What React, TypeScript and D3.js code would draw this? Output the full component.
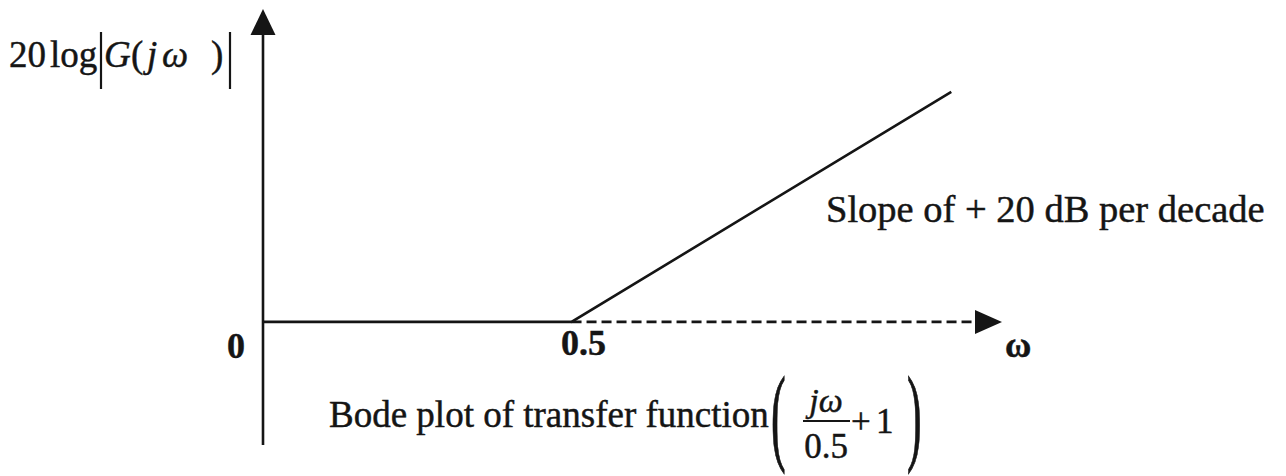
import React from "react";
import * as d3 from "d3";

// Asymptotic Bode magnitude of (jω/0.5 + 1): flat at 0 dB, then +20 dB/decade past the corner
const omegaBreaks = [0.077, 0.5, 5];
const magnitudeDb = [0, 0, 20];
const cornerOmega = 0.5;
const omegaExtent = [0.077, 6.8];
const dbExtent = [-10.7, 27.2];

const originLabel = "0";
const cornerLabel = "0.5";
const omegaLabel = "ω";
const slopeLabel = "Slope of + 20 dB per decade";
const captionLabel = "Bode plot of transfer function";

const W = 1286;
const H = 476;
const INK = "#151515";
const SERIF = "'Liberation Serif', 'Times New Roman', serif";

export default function App() {
  const x = d3.scaleLog().domain(omegaExtent).range([263, 1002]);
  const y = d3.scaleLinear().domain(dbExtent).range([445, 9]);

  const pts: [number, number][] = omegaBreaks.map((w, i) => [x(w), y(magnitudeDb[i])]);
  const asymptote = d3.line()(pts) as string;

  const x0 = x(omegaExtent[0]);
  const xc = x(cornerOmega);
  const xEnd = x(omegaExtent[1]);
  const y0 = y(0);
  const yTop = y(dbExtent[1]);
  const yBot = y(dbExtent[0]);

  // slightly heavier glyphs, like a printed textbook figure
  const textInk = { fill: INK, stroke: INK, strokeWidth: 0.45 };

  return (
    <svg
      width={W}
      height={H}
      viewBox={`0 0 ${W} ${H}`}
      style={{ position: "absolute", left: 0, top: 0, background: "#fff" }}
      fontFamily={SERIF}
      fill={INK}
    >
      {/* vertical axis with arrowhead */}
      <line x1={x0} x2={x0} y1={yBot} y2={yTop + 24} stroke={INK} strokeWidth={2.6} />
      <path d={`M${x0},${yTop} L${x0 - 12.5},${yTop + 26} L${x0 + 12.5},${yTop + 26} Z`} fill={INK} />

      {/* dashed continuation of the 0 dB line to the ω arrow */}
      <line x1={xc} x2={xEnd - 27} y1={y0} y2={y0} stroke={INK} strokeWidth={2.6} strokeDasharray="10 5" />
      <path d={`M${xEnd},${y0} L${xEnd - 27},${y0 - 12} L${xEnd - 27},${y0 + 12} Z`} fill={INK} />

      {/* asymptote */}
      <path d={asymptote} fill="none" stroke={INK} strokeWidth={2.6} />

      <g {...textInk}>
        {/* y-axis label: 20 log|G(jω )| */}
        <text y={67} fontSize={37}>
          <tspan x={9}>20</tspan>
          <tspan x={50}>log</tspan>
        </text>
        <text y={67} fontSize={37} fontStyle="italic">
          <tspan x={104}>G</tspan>
          <tspan x={131} fontStyle="normal">(</tspan>
          <tspan x={147}>j</tspan>
          <tspan x={162}>ω</tspan>
          <tspan x={211} fontStyle="normal">)</tspan>
        </text>

        {/* tick labels */}
        <text x={x0 - 27} y={358} fontSize={36} fontWeight="bold" textAnchor="middle">
          {originLabel}
        </text>
        <text x={xc + 12} y={355} fontSize={36} fontWeight="bold" textAnchor="middle">
          {cornerLabel}
        </text>
        <text x={xEnd + 3} y={357} fontSize={36} fontWeight="bold">
          {omegaLabel}
        </text>

        {/* slope annotation */}
        <text x={826} y={222} fontSize={38.5}>
          {slopeLabel}
        </text>

        {/* caption with transfer function */}
        <text x={329} y={427} fontSize={37}>
          {captionLabel}
        </text>
        <text transform="translate(771,451) scale(1,2.47)" fontSize={44}>
          (
        </text>
        <text x={826} y={412} fontSize={34} fontStyle="italic" textAnchor="middle">
          jω
        </text>
        <text x={826} y={458} fontSize={35} textAnchor="middle">
          0.5
        </text>
        <text x={851} y={433} fontSize={35}>
          +
        </text>
        <text x={876} y={433} fontSize={35}>
          1
        </text>
        <text transform="translate(907,451) scale(1,2.47)" fontSize={44}>
          )
        </text>
      </g>

      {/* magnitude bars and fraction rule */}
      <line x1={101} x2={101} y1={32} y2={89} stroke={INK} strokeWidth={2.2} />
      <line x1={230} x2={230} y1={32} y2={89} stroke={INK} strokeWidth={2.2} />
      <line x1={803} x2={850} y1={421} y2={421} stroke={INK} strokeWidth={2} />
    </svg>
  );
}
